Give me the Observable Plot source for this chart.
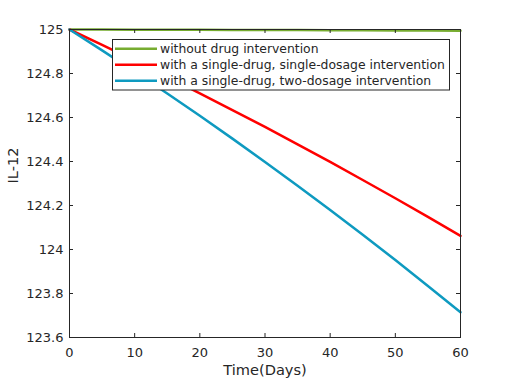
<!DOCTYPE html>
<html><head><meta charset="utf-8">
<script src="https://cdn.jsdelivr.net/npm/d3@7"></script>
<script src="https://cdn.jsdelivr.net/npm/@observablehq/plot@0.6"></script>
<style>
body{margin:0;background:#fff;}
#chart{position:relative;width:508px;height:381px;}
</style>
</head><body><div id="chart"></div>
<script>
const days = [0,5,10,15,20,25,30,35,40,45,50,55,60];
const noDrug = [125.000,125.000,124.999,124.999,124.999,124.998,124.998,124.998,124.997,124.997,124.996,124.995,124.994];
const singleDose = [125.000,124.930,124.858,124.785,124.710,124.634,124.557,124.478,124.398,124.316,124.233,124.148,124.062];
const twoDose = [125.000,124.905,124.808,124.709,124.608,124.504,124.398,124.290,124.179,124.067,123.952,123.834,123.715];
const seriesNames = ["without drug intervention","with a single-drug, single-dosage intervention","with a single-drug, two-dosage intervention"];
const seriesColors = ["#77ac30","#ff0000","#0e9ac0"];
const xTicks = [0,10,20,30,40,50,60];
const yTicks = [123.6,123.8,124,124.2,124.4,124.6,124.8,125];

const seriesValues = [noDrug, singleDose, twoDose];
const rows = seriesValues.flatMap((vals, s) => vals.map((v, i) => ({t: days[i], v, s: seriesNames[s]})));

const W = 508, H = 381, mt = 29, mb = 44, ml = 69, mr = 48;
const ph = H - mt - mb, pw = W - ml - mr;
const ink = "#262626";
const font = "DejaVu Sans, sans-serif";

const plot = Plot.plot({
  width: W, height: H,
  marginTop: mt, marginBottom: mb, marginLeft: ml, marginRight: mr,
  style: {fontFamily: font, color: ink, background: "#fff", overflow: "visible"},
  x: {domain: [0, 60]},
  y: {domain: [123.6, 125]},
  color: {domain: seriesNames, range: seriesColors},
  marks: [
    Plot.line(rows, {x: "t", y: "v", z: "s", stroke: "s", strokeWidth: 2.5}),
    Plot.frame({stroke: ink, strokeWidth: 1}),
    Plot.tickX(xTicks, {x: d => d, stroke: ink, insetTop: ph - 4}),
    Plot.tickX(xTicks, {x: d => d, stroke: ink, insetBottom: ph - 4}),
    Plot.tickY(yTicks, {y: d => d, stroke: ink, insetRight: pw - 4}),
    Plot.tickY(yTicks, {y: d => d, stroke: ink, insetLeft: pw - 4}),
    Plot.axisX({ticks: xTicks, tickSize: 0, tickPadding: 10, fontSize: 13, label: null, tickFormat: d3.format("~g")}),
    Plot.axisY({ticks: yTicks, tickSize: 0, tickPadding: 6, fontSize: 13, label: null, tickFormat: d3.format("~g")}),
    Plot.text(["Time(Days)"], {frameAnchor: "bottom", dy: 37, fontSize: 14.6, fill: ink, lineAnchor: "bottom", text: d => d}),
    Plot.text(["IL-12"], {frameAnchor: "left", dx: -62, rotate: -90, fontSize: 14.6, fill: ink, lineAnchor: "top", text: d => d})
  ]
});
document.getElementById("chart").appendChild(plot);

// legend (inside axes, top)
const svg = d3.select(plot);
const lg = svg.append("g").attr("font-family", font).attr("font-size", 12.4).attr("fill", ink).attr("text-anchor", "start");
lg.append("rect").attr("x", 112.5).attr("y", 39.5).attr("width", 337).attr("height", 50.5)
  .attr("fill", "#fff").attr("stroke", ink).attr("stroke-width", 1);
seriesNames.forEach((name, i) => {
  const cy = 48.8 + i * 16;
  lg.append("line").attr("x1", 115).attr("x2", 157).attr("y1", cy).attr("y2", cy)
    .attr("stroke", seriesColors[i]).attr("stroke-width", 2.5);
  lg.append("text").attr("x", 160).attr("y", cy + 4.3).attr("text-anchor", "start").text(name);
});
</script>
</body></html>
